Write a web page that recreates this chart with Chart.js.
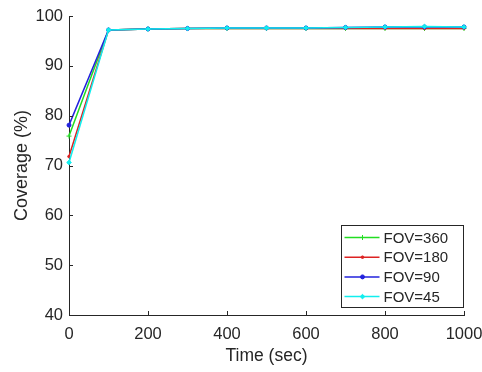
<!DOCTYPE html>
<html>
<head>
<meta charset="utf-8">
<script src="https://cdn.jsdelivr.net/npm/chart.js@4"></script>
<style>
	html, body { margin: 0; padding: 0; background: #fff; }
	#wrap { width: 482px; height: 372px; }
</style>
</head>
<body>
<div id="wrap"><canvas id="cov-chart" width="482" height="372"></canvas></div>
<script>
// Data
const times = [0, 100, 200, 300, 400, 500, 600, 700, 800, 900, 1000];
const fov360 = [75.9, 97.2, 97.4, 97.5, 97.5, 97.5, 97.5, 97.5, 97.5, 97.5, 97.5];
const fov180 = [71.8, 97.2, 97.4, 97.5, 97.5, 97.5, 97.5, 97.5, 97.5, 97.5, 97.5];
const fov90 = [78.1, 97.2, 97.4, 97.5, 97.6, 97.6, 97.6, 97.7, 97.8, 97.8, 97.8];
const fov45 = [70.6, 97.2, 97.4, 97.5, 97.6, 97.6, 97.6, 97.7, 97.8, 97.9, 97.8];
const seriesLabels = ['FOV=360', 'FOV=180', 'FOV=90', 'FOV=45'];
const xTicks = [0, 200, 400, 600, 800, 1000];
const yTicks = [40, 50, 60, 70, 80, 90, 100];

const AXIS_COLOR = '#262626';
const FONT = 'Arial, "Liberation Sans", Helvetica, sans-serif';

function toPoints(ys) {
	return times.map((t, i) => ({ x: t, y: ys[i] }));
}

/**
 * Inward ticks + MATLAB style legend box
 */
const matlabPlugin = {
	id: 'matlab',
	afterDraw(chart) {
		const ctx = chart.ctx;
		const area = chart.chartArea;
		const xs = chart.scales.x;
		const ys = chart.scales.y;

		ctx.save();
		ctx.strokeStyle = AXIS_COLOR;
		ctx.lineWidth = 1;
		ctx.beginPath();
		for (const t of xTicks) {
			const px = Math.round(xs.getPixelForValue(t)) + 0.5;
			ctx.moveTo(px, area.bottom);
			ctx.lineTo(px, area.bottom - 4);
		}
		for (const t of yTicks) {
			const py = Math.round(ys.getPixelForValue(t)) + 0.5;
			ctx.moveTo(area.left, py);
			ctx.lineTo(area.left + 4, py);
		}
		ctx.stroke();

		// legend
		const boxW = 122, boxH = 82;
		const bx = Math.round(area.right - boxW - 1) + 0.5;
		const by = Math.round(area.bottom - boxH - 8) + 0.5;
		ctx.fillStyle = '#ffffff';
		ctx.fillRect(bx, by, boxW, boxH);
		ctx.strokeStyle = AXIS_COLOR;
		ctx.strokeRect(bx, by, boxW, boxH);

		ctx.font = '15px ' + FONT;
		ctx.textBaseline = 'middle';
		chart.data.datasets.forEach((ds, i) => {
			const ry = by + 12 + i * 19.7;
			ctx.strokeStyle = ds.borderColor;
			ctx.fillStyle = ds.borderColor;
			ctx.lineWidth = 1.5;
			ctx.beginPath();
			ctx.moveTo(bx + 3, ry);
			ctx.lineTo(bx + 38, ry);
			ctx.stroke();
			ctx.lineWidth = 1;
			Chart.helpers.drawPoint(ctx, {
				pointStyle: ds.pointStyle,
				radius: ds.pointRadius,
				borderWidth: 1,
				rotation: 0
			}, bx + 21, ry);
			ctx.fillStyle = AXIS_COLOR;
			ctx.fillText(ds.label, bx + 42, ry + 1);
		});
		ctx.restore();
	}
};

function makeDataset(label, ys, color, style, radius, order) {
	return {
		label: label,
		data: toPoints(ys),
		borderColor: color,
		backgroundColor: color,
		pointBorderColor: color,
		pointBackgroundColor: color,
		borderWidth: 1.5,
		pointStyle: style,
		pointRadius: radius,
		pointBorderWidth: 1,
		tension: 0,
		clip: false,
		order: order
	};
}

function initChart() {
	const ctx = document.getElementById('cov-chart').getContext('2d');

	chart = new Chart(ctx, {
		type: 'line',
		data: {
			datasets: [
				makeDataset(seriesLabels[0], fov360, '#22dd22', 'cross', 2.5, 3),
				makeDataset(seriesLabels[1], fov180, '#dd2222', 'circle', 1.3, 2),
				makeDataset(seriesLabels[2], fov90, '#2222dd', 'circle', 2, 1),
				makeDataset(seriesLabels[3], fov45, '#11eeee', 'rectRot', 2.3, 0)
			]
		},
		options: {
			responsive: false,
			animation: false,
			layout: { padding: { top: 16, right: 18, left: 0, bottom: 0 } },
			plugins: {
				legend: { display: false },
				tooltip: { enabled: false }
			},
			scales: {
				x: {
					type: 'linear',
					min: 0,
					max: 1000,
					afterFit: (s) => {
						s.height = 57;
						s.paddingLeft = 0;
						s.paddingRight = 0;
					},
					afterBuildTicks: (s) => { s.ticks = xTicks.map(v => ({ value: v })); },
					grid: { display: false, drawTicks: false },
					border: { color: AXIS_COLOR, width: 1 },
					ticks: {
						color: AXIS_COLOR,
						padding: 10,
						maxRotation: 0,
						font: { family: FONT, size: 16.5 },
						callback: (v) => String(v)
					},
					title: {
						display: true,
						text: 'Time (sec)',
						color: AXIS_COLOR,
						padding: { top: 0, bottom: 5 },
						font: { family: FONT, size: 17.5 }
					}
				},
				y: {
					min: 40,
					max: 100,
					afterFit: (s) => {
						s.width = 69;
						s.paddingTop = 0;
						s.paddingBottom = 0;
					},
					afterBuildTicks: (s) => { s.ticks = yTicks.map(v => ({ value: v })); },
					grid: { display: false, drawTicks: false },
					border: { color: AXIS_COLOR, width: 1 },
					ticks: {
						color: AXIS_COLOR,
						padding: 6,
						font: { family: FONT, size: 16.5 },
						callback: (v) => String(v)
					},
					title: {
						display: true,
						text: 'Coverage (%)',
						color: AXIS_COLOR,
						padding: { top: 11, bottom: 0 },
						font: { family: FONT, size: 18 }
					}
				}
			}
		},
		plugins: [matlabPlugin]
	});
}

let chart = null;
initChart();
</script>
</body>
</html>
